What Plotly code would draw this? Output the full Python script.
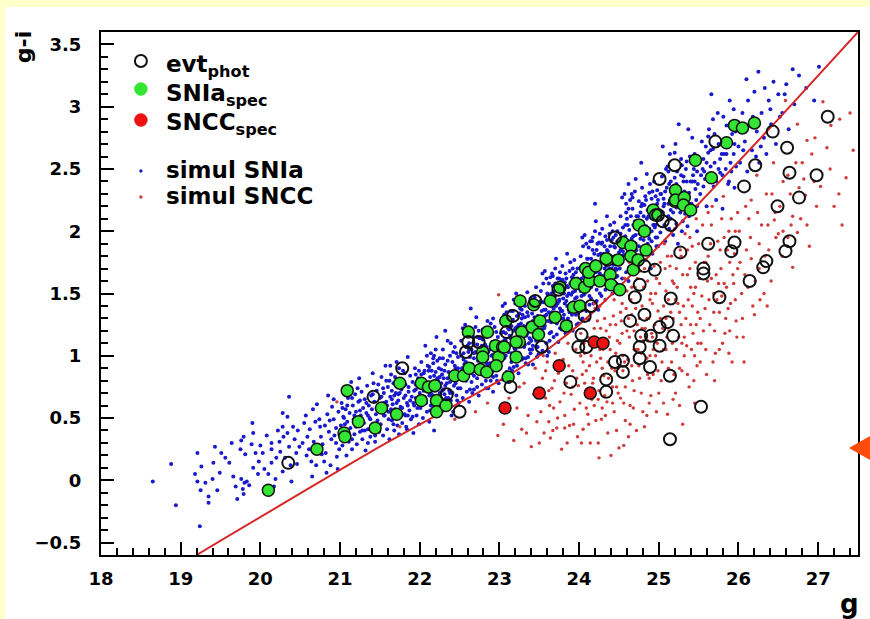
import plotly.graph_objects as go

# ---------------- data ----------------
# separation line (g, g-i)
line_g = [19.2, 21.5, 23.0, 23.5, 24.0, 24.5, 25.25, 26.5, 27.5]
line_gi = [-0.6, 0.27, 0.80, 1.0, 1.25, 1.55, 2.05, 2.9, 3.6]

# photometric events (open circles)
evt_phot = [(20.35,0.14),(21.42,0.67),(21.78,0.90),(22.50,0.55),(22.34,0.69),(22.61,1.11),(22.58,1.03),
    (22.74,1.11),(23.17,1.32),(23.09,1.19),(23.14,0.75),(23.53,1.07),(23.89,0.79),(23.99,1.07),(24.09,1.07),
    (24.03,1.17),(24.15,1.40),(24.07,1.32),(24.34,0.81),(24.34,0.71),(24.45,0.95),(24.55,0.96),(24.55,0.87),
    (24.64,1.28),(24.70,1.47),(24.82,1.33),(24.76,1.57),(24.76,1.07),(24.78,1.16),(24.90,1.16),(24.89,0.91),
    (25.01,1.08),(25.01,1.23),(25.11,1.27),(25.18,1.16),(25.15,1.46),(25.14,0.33),(25.14,0.84),(24.95,1.69),
    (24.45,1.95),(25.05,2.08),(24.76,0.98),(25.53,0.59),(27.12,2.92),(26.43,2.80),(26.61,2.67),(25.71,2.72),
    (25.20,2.53),(25.01,2.42),(26.21,2.53),(26.64,2.47),(26.98,2.45),(26.07,2.36),(26.76,2.27),(26.49,2.20),
    (25.62,1.90),(25.27,1.83),(25.95,1.91),(25.91,1.84),(26.64,1.92),(26.59,1.84),(26.35,1.76),(26.31,1.71),
    (25.56,1.70),(25.56,1.66),(26.14,1.60),(25.15,2.05),(24.99,2.13),(25.76,1.47),(24.82,1.72),(23.74,1.53),
    (23.45,1.44)]

# spectroscopic SNIa (green)
snia_spec = [(20.10,-0.08),(20.71,0.25),(21.09,0.72),(21.05,0.38),(21.06,0.35),(21.23,0.47),(21.44,0.42),
    (21.52,0.58),(21.71,0.53),(21.75,0.78),(22.02,0.78),(22.02,0.64),(22.21,0.64),(22.21,0.55),(22.11,0.75),
    (22.33,0.60),(22.19,0.76),(22.44,0.84),(22.55,0.84),(22.61,1.19),(22.62,0.90),(22.79,1.03),(22.79,0.99),
    (22.76,0.89),(22.84,0.87),(22.85,1.19),(22.95,1.08),(22.99,0.99),(23.04,1.07),(23.06,1.07),(22.96,0.92),
    (23.21,0.99),(23.08,1.28),(23.26,1.44),(23.28,1.19),(23.25,1.11),(23.11,0.83),(23.21,1.11),(23.41,1.23),
    (23.51,1.28),(23.49,1.17),(23.43,1.41),(23.64,1.44),(23.70,1.31),(23.84,1.24),(23.76,1.55),(23.93,1.39),
    (23.96,1.58),(24.01,1.40),(24.07,1.55),(24.13,1.60),(24.08,1.70),(24.12,1.67),(24.21,1.72),(24.26,1.60),
    (24.36,1.77),(24.39,1.65),(24.40,1.57),(24.51,1.53),(24.55,1.91),(24.65,1.88),(24.68,1.69),(24.65,1.80),
    (24.75,2.05),(24.82,2.00),(24.74,1.77),(24.84,1.85),(24.49,1.77),(24.93,2.17),(24.96,2.13),(25.20,2.24),
    (25.95,2.85),(26.05,2.83),(26.20,2.87),(25.85,2.71),(25.46,2.57),(25.66,2.43),(25.21,2.33),(25.21,2.25),
    (25.32,2.27),(25.31,2.21),(25.40,2.17),(24.34,1.78)]

# spectroscopic SNCC (red)
sncc_spec = [(23.07,0.58),(23.50,0.70),(23.75,0.92),(24.14,0.70),(24.19,1.11),(24.30,1.10)]

# simulated SNIa (blue dots)
simul_snia = [
    (18.65,-0.01),(18.88,0.13),(18.94,-0.20),(19.24,-0.37),(19.21,0.22),(19.26,0.11),(19.18,0.05),(19.21,-0.01),
    (19.31,-0.02),(19.25,-0.08),(19.35,-0.13),(19.35,-0.18),(19.43,0.27),(19.41,0.14),(19.40,0.01),(19.46,-0.08),
    (19.51,0.22),(19.49,0.06),
    (19.61,0.14),(19.66,0.03),(19.69,-0.05),(19.71,-0.15),(19.76,0.32),(19.75,0.25),(19.76,0.01),(19.78,-0.07),
    (19.79,-0.11),(19.80,-0.02),(19.79,0.35),(19.81,0.21),(19.90,0.46),(19.89,0.29),(19.91,0.38),(19.94,0.22),
    (19.91,0.10),(19.86,-0.04),(19.83,-0.01),(20.00,0.28),(19.56,0.18),(19.64,0.30),(19.97,0.05),(19.98,0.15),
    (20.03,0.22),(20.05,0.09),(20.14,0.25),(20.14,0.30),(20.14,0.14),(20.20,0.18),(20.19,0.01),(20.28,0.54),
    (20.28,0.43),(20.29,0.35),(20.28,0.07),(20.34,0.51),(20.34,0.38),(20.36,0.67),(20.36,0.27),(20.39,-0.01),
    (20.41,0.43),(20.43,0.33),(20.45,0.22),(20.46,0.13),(20.49,0.27),(20.08,0.36),(20.22,0.40),(20.25,0.23),
    (20.31,0.18),(20.38,0.12),(20.47,0.40),(20.10,0.05),(20.17,-0.05),(20.24,0.31),
    (20.53,0.30),(20.55,0.46),(20.59,0.35),(20.61,0.25),(20.64,0.15),(20.65,0.03),(20.71,0.61),(20.74,0.49),
    (20.75,0.43),(20.76,0.35),(20.78,0.29),(20.77,0.21),(20.80,0.15),(20.83,0.06),(20.84,0.53),(20.86,0.39),
    (20.89,0.33),(20.90,0.59),(20.92,0.49),(20.95,0.42),(20.95,0.30),(20.96,0.19),(20.92,0.65),(20.57,0.52),
    (20.62,0.41),(20.67,0.31),(20.69,0.47),(20.72,0.26),(20.81,0.44),(20.82,0.22),(20.87,0.48),(20.88,0.12),
    (20.93,0.36),(20.98,0.55),(20.99,0.25),(20.58,0.20),(20.66,0.57),(20.70,0.12),(20.85,0.68),(20.97,0.09),
    (21.01,0.44),(21.02,0.62),(21.03,0.28),(21.04,0.51),(21.05,0.73),(21.06,0.36),(21.07,0.57),(21.08,0.20),
    (21.09,0.47),(21.10,0.66),(21.11,0.31),(21.12,0.54),(21.13,0.42),(21.14,0.79),(21.15,0.25),(21.16,0.60),
    (21.17,0.49),(21.18,0.37),(21.19,0.69),(21.20,0.55),(21.21,0.29),(21.22,0.45),(21.23,0.63),(21.24,0.82),
    (21.25,0.39),(21.26,0.52),(21.27,0.71),(21.28,0.33),(21.29,0.58),(21.30,0.46),(21.31,0.65),(21.32,0.24),
    (21.33,0.54),(21.34,0.76),(21.35,0.41),(21.36,0.60),(21.37,0.50),(21.38,0.35),(21.39,0.68),(21.40,0.57),
    (21.41,0.86),(21.42,0.44),(21.43,0.63),(21.44,0.31),(21.45,0.53),(21.46,0.72),(21.47,0.48),(21.48,0.60),
    (21.49,0.39),(21.50,0.66),
    (21.51,0.45),(21.52,0.83),(21.53,0.58),(21.54,0.36),(21.55,0.70),(21.56,0.52),(21.57,0.92),(21.58,0.63),
    (21.59,0.41),(21.60,0.75),(21.61,0.55),(21.62,0.33),(21.63,0.67),(21.64,0.85),(21.65,0.48),(21.66,0.61),
    (21.67,0.78),(21.68,0.40),(21.69,0.57),(21.70,0.70),(21.71,0.95),(21.72,0.50),(21.73,0.64),(21.74,0.37),
    (21.75,0.81),(21.76,0.59),(21.77,0.73),(21.78,0.46),(21.79,0.88),(21.80,0.66),(21.81,0.53),(21.82,0.77),
    (21.83,0.43),(21.84,0.62),(21.85,0.99),(21.86,0.71),(21.87,0.56),(21.88,0.84),(21.89,0.49),(21.90,0.67),
    (21.91,0.79),(21.92,0.38),(21.93,0.60),(21.94,0.90),(21.95,0.73),(21.96,0.52),(21.97,0.65),(21.98,0.82),
    (21.99,0.45),(22.00,0.70),(21.55,0.62),(21.65,0.72),(21.75,0.55),(21.85,0.60),(21.95,0.85),
    (22.01,0.58),(22.02,0.95),(22.03,0.74),(22.04,0.50),(22.05,0.86),(22.06,0.67),(22.07,1.08),(22.08,0.79),
    (22.09,0.55),(22.10,0.92),(22.11,0.71),(22.12,0.47),(22.13,0.83),(22.14,1.02),(22.15,0.63),(22.16,0.77),
    (22.17,0.94),(22.18,0.57),(22.19,0.72),(22.20,0.87),(22.21,1.15),(22.22,0.66),(22.23,0.80),(22.24,0.52),
    (22.25,0.98),(22.26,0.75),(22.27,0.89),(22.28,0.61),(22.29,1.05),(22.30,0.82),(22.31,0.69),(22.32,0.93),
    (22.33,0.58),(22.34,0.78),(22.35,1.12),(22.36,0.87),(22.37,0.72),(22.38,1.00),(22.39,0.64),(22.40,0.84),
    (22.41,0.95),(22.42,0.55),(22.43,0.76),(22.44,1.07),(22.45,0.90),(22.46,0.68),(22.47,0.81),(22.48,0.99),
    (22.49,0.62),(22.50,0.86),(22.06,0.88),(22.14,0.60),(22.22,0.96),(22.28,0.72),(22.36,0.66),(22.44,0.83),
    (22.12,0.78),(22.32,1.20),(22.18,0.40),(22.40,0.52),
    (22.51,0.74),(22.52,1.12),(22.53,0.90),(22.54,0.66),(22.55,1.02),(22.56,0.83),(22.57,1.25),(22.58,0.95),
    (22.59,0.71),(22.60,1.08),(22.61,0.87),(22.62,0.63),(22.63,0.99),(22.64,1.18),(22.65,0.79),(22.66,0.93),
    (22.67,1.10),(22.68,0.73),(22.69,0.88),(22.70,1.03),(22.71,1.31),(22.72,0.82),(22.73,0.96),(22.74,0.68),
    (22.75,1.14),(22.76,0.91),(22.77,1.05),(22.78,0.77),(22.79,1.21),(22.80,0.98),(22.81,0.85),(22.82,1.09),
    (22.83,0.74),(22.84,0.94),(22.85,1.28),(22.86,1.03),(22.87,0.88),(22.88,1.16),(22.89,0.80),(22.90,1.00),
    (22.91,1.11),(22.92,0.71),(22.93,0.92),(22.94,1.23),(22.95,1.06),(22.96,0.84),(22.97,0.97),(22.98,1.15),
    (22.99,0.78),(23.00,1.02),(22.55,0.88),(22.62,1.05),(22.68,0.98),(22.74,1.20),(22.80,0.86),(22.86,0.93),
    (22.92,1.30),(22.58,0.80),(22.66,0.70),(22.72,1.09),(22.78,0.96),(22.84,1.07),(22.90,0.90),(22.96,1.00),
    (22.64,1.38),
    (23.01,0.90),(23.02,1.28),(23.03,1.05),(23.04,0.81),(23.05,1.19),(23.06,0.98),(23.07,1.42),(23.08,1.12),
    (23.09,0.87),(23.10,1.25),(23.11,1.03),(23.12,0.79),(23.13,1.16),(23.14,1.36),(23.15,0.95),(23.16,1.10),
    (23.17,1.29),(23.18,0.91),(23.19,1.06),(23.20,1.22),(23.21,1.50),(23.22,1.01),(23.23,1.15),(23.24,0.86),
    (23.25,1.34),(23.26,1.11),(23.27,1.26),(23.28,0.97),(23.29,1.43),(23.30,1.19),(23.31,1.07),(23.32,1.31),
    (23.33,0.94),(23.34,1.16),(23.35,1.51),(23.36,1.26),(23.37,1.10),(23.38,1.39),(23.39,1.02),(23.40,1.22),
    (23.41,1.34),(23.42,0.93),(23.43,1.15),(23.44,1.47),(23.45,1.30),(23.46,1.07),(23.47,1.20),(23.48,1.40),
    (23.49,1.01),(23.50,1.27),(23.04,1.10),(23.08,1.00),(23.12,1.21),(23.16,0.88),(23.20,1.05),(23.24,1.18),
    (23.28,1.37),(23.32,1.09),(23.36,0.99),(23.40,1.12),(23.44,1.24),(23.48,1.13),(23.06,1.33),(23.14,1.14),
    (23.22,1.32),(23.30,0.98),(23.38,1.25),(23.46,1.55),(23.18,1.45),(23.42,1.08),
    (23.51,1.14),(23.52,1.52),(23.53,1.29),(23.54,1.04),(23.55,1.43),(23.56,1.22),(23.57,1.68),(23.58,1.37),
    (23.59,1.10),(23.60,1.50),(23.61,1.28),(23.62,1.03),(23.63,1.41),(23.64,1.63),(23.65,1.19),(23.66,1.35),
    (23.67,1.56),(23.68,1.15),(23.69,1.31),(23.70,1.48),(23.71,1.78),(23.72,1.26),(23.73,1.42),(23.74,1.11),
    (23.75,1.62),(23.76,1.38),(23.77,1.53),(23.78,1.21),(23.79,1.72),(23.80,1.46),(23.81,1.33),(23.82,1.59),
    (23.83,1.18),(23.84,1.44),(23.85,1.82),(23.86,1.55),(23.87,1.37),(23.88,1.68),(23.89,1.27),(23.90,1.49),
    (23.91,1.63),(23.92,1.20),(23.93,1.43),(23.94,1.77),(23.95,1.58),(23.96,1.33),(23.97,1.47),(23.98,1.70),
    (23.99,1.26),(24.00,1.54),(23.53,1.36),(23.57,1.24),(23.61,1.45),(23.65,1.30),(23.69,1.52),(23.73,1.62),
    (23.77,1.30),(23.81,1.50),(23.85,1.40),(23.89,1.58),(23.93,1.65),(23.97,1.39),(23.55,1.58),(23.63,1.18),
    (23.71,1.40),(23.79,1.36),(23.87,1.50),(23.95,1.46),(23.59,1.33),(23.67,1.44),(23.75,1.45),(23.83,1.66),
    (23.91,1.40),(23.99,1.60),(23.60,1.00),
    (24.01,1.40),(24.02,1.80),(24.03,1.56),(24.04,1.30),(24.05,1.71),(24.06,1.49),(24.07,1.97),(24.08,1.64),
    (24.09,1.36),(24.10,1.78),(24.11,1.55),(24.12,1.29),(24.13,1.69),(24.14,1.92),(24.15,1.46),(24.16,1.62),
    (24.17,1.85),(24.18,1.42),(24.19,1.58),(24.20,1.76),(24.21,2.08),(24.22,1.53),(24.23,1.70),(24.24,1.37),
    (24.25,1.91),(24.26,1.66),(24.27,1.82),(24.28,1.48),(24.29,2.02),(24.30,1.75),(24.31,1.61),(24.32,1.88),
    (24.33,1.45),(24.34,1.72),(24.35,2.12),(24.36,1.84),(24.37,1.65),(24.38,1.98),(24.39,1.55),(24.40,1.79),
    (24.41,1.93),(24.42,1.50),(24.43,1.73),(24.44,2.07),(24.45,1.87),(24.46,1.63),(24.47,1.77),(24.48,2.00),
    (24.49,1.56),(24.50,1.83),(24.03,1.62),(24.07,1.50),(24.11,1.73),(24.15,1.60),(24.19,1.82),(24.23,1.90),
    (24.27,1.58),(24.31,1.79),(24.35,1.68),(24.39,1.88),(24.43,1.95),(24.47,1.69),(24.05,1.88),(24.13,1.48),
    (24.21,1.67),(24.29,1.64),(24.37,1.80),(24.45,1.74),(24.09,1.63),(24.17,1.72),(24.25,1.75),(24.33,1.96),
    (24.41,1.70),(24.49,1.90),(24.20,2.22),
    (24.51,1.70),(24.52,2.12),(24.53,1.88),(24.54,1.62),(24.55,2.03),(24.56,1.81),(24.57,2.30),(24.58,1.96),
    (24.59,1.67),(24.60,2.10),(24.61,1.87),(24.62,1.60),(24.63,2.01),(24.64,2.25),(24.65,1.78),(24.66,1.94),
    (24.67,2.18),(24.68,1.74),(24.69,1.91),(24.70,2.08),(24.71,2.42),(24.72,1.85),(24.73,2.02),(24.74,1.69),
    (24.75,2.24),(24.76,1.98),(24.77,2.15),(24.78,1.80),(24.79,2.35),(24.80,2.07),(24.81,1.93),(24.82,2.21),
    (24.83,1.77),(24.84,2.04),(24.85,2.46),(24.86,2.17),(24.87,1.97),(24.88,2.31),(24.89,1.86),(24.90,2.11),
    (24.91,2.26),(24.92,1.82),(24.93,2.05),(24.94,2.40),(24.95,2.20),(24.96,1.95),(24.97,2.09),(24.98,2.33),
    (24.99,1.88),(25.00,2.16),(24.55,1.84),(24.63,1.78),(24.71,1.97),(24.79,2.00),(24.87,2.12),(24.95,2.03),
    (24.59,2.22),(24.67,1.89),(24.75,2.08),(24.83,2.28),(24.91,2.00),(24.99,2.25),(24.62,2.38),(24.78,2.55),
    (24.90,1.70),
    (25.02,1.99),(25.04,2.44),(25.06,2.20),(25.08,1.92),(25.10,2.35),(25.12,2.12),(25.14,2.62),(25.16,2.27),
    (25.18,1.97),(25.20,2.43),(25.22,2.19),(25.24,1.90),(25.26,2.33),(25.28,2.58),(25.30,2.08),(25.32,2.26),
    (25.34,2.50),(25.36,2.04),(25.38,2.22),(25.40,2.40),(25.42,2.75),(25.44,2.16),(25.46,2.34),(25.48,2.00),
    (25.50,2.55),(25.03,2.30),(25.07,2.05),(25.11,2.52),(25.15,2.10),(25.19,2.28),(25.23,2.48),(25.27,2.15),
    (25.31,2.40),(25.35,2.30),(25.39,2.60),(25.43,2.45),(25.47,2.25),(25.05,2.68),(25.13,2.38),(25.21,2.70),
    (25.29,2.00),(25.37,2.82),(25.45,2.62),(25.49,2.38),(25.25,2.86),
    (25.52,2.30),(25.54,2.72),(25.57,2.48),(25.60,2.20),(25.62,2.63),(25.65,2.40),(25.68,2.90),(25.70,2.55),
    (25.72,2.25),(25.75,2.70),(25.77,2.47),(25.80,2.18),(25.82,2.62),(25.85,2.85),(25.87,2.38),(25.90,2.55),
    (25.92,2.78),(25.95,2.35),(25.97,2.52),(26.00,2.68),(25.56,2.58),(25.63,2.82),(25.69,2.36),(25.74,2.95),
    (25.79,2.62),(25.84,2.50),(25.89,3.05),(25.94,2.62),(25.99,2.88),(25.66,3.10),(25.58,2.42),(25.86,2.70),
    (26.02,2.55),(26.05,2.95),(26.08,2.72),(26.11,2.48),(26.14,2.85),(26.17,2.65),(26.20,3.12),(26.23,2.80),
    (26.26,2.55),(26.29,2.95),(26.32,2.75),(26.35,2.62),(26.38,3.05),(26.41,2.86),(26.44,3.20),(26.47,2.70),
    (26.10,3.22),(26.25,3.28),
    (26.52,2.92),(26.58,3.10),(26.63,2.82),(26.70,3.02),(26.76,3.25),(26.85,3.15),(27.01,3.32),(26.95,3.05),
    (26.68,3.30)]

simul_snia_more = [
    (21.03,0.58),(21.27,0.47),(21.12,0.36),(21.41,0.69),(21.18,0.52),(21.35,0.30),(21.06,0.45),(21.46,0.58),
    (21.22,0.74),(21.31,0.40),(21.09,0.60),(21.38,0.49),(21.15,0.66),(21.44,0.36),(21.25,0.56),(21.48,0.77),
    (21.02,0.33),(21.33,0.62),(21.20,0.43),(21.13,0.71),
    (21.52,0.67),(21.78,0.58),(21.61,0.49),(21.93,0.72),(21.69,0.83),(21.84,0.41),(21.57,0.56),(21.97,0.58),
    (21.73,0.69),(21.63,0.92),(21.88,0.64),(21.54,0.74),(21.81,0.86),(21.67,0.45),(21.99,0.88),(21.76,0.77),
    (21.59,0.60),(21.91,0.51),(21.71,0.62),(21.86,0.75),(21.64,0.57),(21.95,0.66),(21.82,0.52),(21.58,0.80),
    (21.74,0.90),
    (22.03,0.66),(22.27,0.78),(22.12,0.91),(22.41,0.70),(22.18,0.84),(22.35,0.96),(22.06,0.74),(22.46,1.02),
    (22.22,0.60),(22.31,0.88),(22.09,1.00),(22.38,0.79),(22.15,0.69),(22.44,0.92),(22.25,0.83),(22.48,0.74),
    (22.02,0.85),(22.33,0.66),(22.20,1.05),(22.13,0.56),(22.29,0.98),(22.42,0.86),(22.07,0.79),(22.36,0.59),
    (22.24,0.90),(22.47,0.64),(22.11,0.88),(22.39,1.10),(22.17,0.98),(22.30,0.73),
    (22.53,0.81),(22.77,0.93),(22.62,1.10),(22.91,0.87),(22.68,1.02),(22.84,1.15),(22.56,0.93),(22.96,1.19),
    (22.72,0.75),(22.81,1.05),(22.59,1.17),(22.88,0.94),(22.65,0.86),(22.94,1.08),(22.75,0.99),(22.98,0.89),
    (22.52,1.00),(22.83,0.80),(22.70,1.23),(22.63,0.73),(22.79,1.13),(22.92,1.01),(22.57,0.94),(22.86,0.74),
    (22.74,1.06),(22.97,0.80),(22.61,1.03),(22.89,1.26),(22.67,1.15),(22.80,0.90),(22.54,1.22),(22.71,0.89),
    (23.03,0.96),(23.27,1.10),(23.12,1.30),(23.41,1.05),(23.18,1.20),(23.35,1.35),(23.06,1.12),(23.46,1.40),
    (23.22,0.92),(23.31,1.24),(23.09,1.35),(23.38,1.14),(23.15,1.02),(23.44,1.31),(23.25,1.17),(23.48,1.07),
    (23.02,1.18),(23.33,0.98),(23.20,1.42),(23.13,0.90),(23.29,1.33),(23.42,1.20),(23.07,1.13),(23.36,0.93),
    (23.24,1.25),(23.47,0.99),(23.11,1.22),(23.39,1.46),(23.17,1.36),(23.30,1.08),(23.04,1.40),(23.21,1.07),
    (23.45,1.16),(23.26,1.38),
    (23.53,1.21),(23.77,1.36),(23.62,1.58),(23.91,1.33),(23.68,1.47),(23.84,1.62),(23.56,1.37),(23.96,1.67),
    (23.72,1.17),(23.81,1.53),(23.59,1.62),(23.88,1.41),(23.65,1.27),(23.94,1.60),(23.75,1.44),(23.98,1.35),
    (23.52,1.44),(23.83,1.24),(23.70,1.70),(23.63,1.12),(23.79,1.61),(23.92,1.51),(23.57,1.32),(23.86,1.22),
    (23.74,1.52),(23.97,1.25),(23.61,1.48),(23.89,1.75),(23.67,1.64),(23.80,1.30),(23.54,1.66),(23.71,1.33),
    (23.95,1.42),(23.76,1.67),(23.85,1.48),(23.66,1.40),
    (24.03,1.48),(24.27,1.63),(24.12,1.87),(24.41,1.62),(24.18,1.75),(24.35,1.93),(24.06,1.64),(24.46,1.97),
    (24.22,1.44),(24.31,1.82),(24.09,1.90),(24.38,1.70),(24.15,1.55),(24.44,1.88),(24.25,1.72),(24.48,1.64),
    (24.02,1.70),(24.33,1.53),(24.20,2.00),(24.13,1.41),(24.29,1.91),(24.42,1.79),(24.07,1.59),(24.36,1.59),
    (24.24,1.81),(24.47,1.58),(24.11,1.78),(24.39,2.05),(24.17,1.95),(24.30,1.60),(24.04,1.95),(24.21,1.61),
    (24.45,1.76),(24.26,1.98),(24.35,1.76),(24.16,1.67),
    (24.53,1.77),(24.77,1.94),(24.62,2.18),(24.91,1.92),(24.68,2.05),(24.84,2.25),(24.56,1.93),(24.96,2.28),
    (24.72,1.75),(24.81,2.12),(24.59,2.15),(24.88,2.02),(24.65,1.86),(24.94,2.20),(24.75,2.02),(24.98,1.95),
    (24.52,1.98),(24.83,1.84),(24.70,2.32),(24.63,1.71),(24.79,2.22),(24.92,2.10),(24.57,1.89),(24.86,1.90),
    (24.74,2.12),(24.97,1.88),(24.61,2.05),(24.89,2.38),(24.67,2.27),(24.80,1.85),(24.54,2.27),(24.71,1.90),
    (24.95,2.05),
    (25.03,2.10),(25.27,2.25),(25.12,2.48),(25.41,2.22),(25.18,2.36),(25.35,2.56),(25.06,2.26),(25.46,2.58),
    (25.22,2.06),(25.31,2.44),(25.09,2.50),(25.38,2.31),(25.15,2.17),(25.44,2.50),(25.25,2.34),(25.48,2.20),
    (25.02,2.30),(25.33,2.14),(25.20,2.63),(25.13,2.02),(25.29,2.53),(25.42,2.40),(25.07,2.22),
    (25.53,2.45),(25.77,2.58),(25.62,2.76),(25.91,2.48),(25.68,2.66),(25.84,2.72),(25.56,2.36),(25.96,2.80),
    (25.72,2.40),(25.81,2.92),(25.59,2.68),(25.88,2.40),(25.65,2.52),(25.94,2.98),
    (26.06,2.65),(26.18,2.92),(26.28,2.68),(26.40,2.98),(26.12,3.05),(26.33,3.15),(26.50,3.10),(26.22,2.60),
    (26.55,2.95),(26.60,3.18)]

simul_snia_core = [
    (21.05,0.50),(21.15,0.33),(21.25,0.64),(21.35,0.52),(21.45,0.45),(21.08,0.68),(21.28,0.40),(21.42,0.78),
    (21.55,0.52),(21.65,0.65),(21.75,0.70),(21.85,0.52),(21.95,0.77),(21.62,0.80),(21.72,0.44),(21.82,0.68),
    (21.92,0.62),(21.68,0.68),
    (22.05,0.72),(22.15,0.88),(22.25,0.70),(22.35,0.82),(22.45,0.78),(22.08,0.62),(22.18,1.00),(22.28,0.85),
    (22.38,0.70),(22.48,0.90),(22.12,0.68),(22.32,0.76),(22.42,1.03),(22.22,0.82),
    (22.55,0.97),(22.65,1.05),(22.75,0.86),(22.85,1.00),(22.95,0.95),(22.58,1.07),(22.68,0.84),(22.78,1.08),
    (22.88,1.05),(22.98,1.10),(22.62,0.92),(22.72,1.15),(22.82,0.96),(22.92,0.83),(22.52,0.85),(22.66,1.20),
    (23.05,1.05),(23.15,1.24),(23.25,1.02),(23.35,1.18),(23.45,1.22),(23.08,1.18),(23.18,1.00),(23.28,1.30),
    (23.38,1.05),(23.48,1.32),(23.12,1.08),(23.22,1.23),(23.32,1.40),(23.42,1.28),(23.02,1.08),(23.26,1.20),
    (23.36,1.32),(23.46,1.12),
    (23.55,1.30),(23.65,1.50),(23.75,1.32),(23.85,1.56),(23.95,1.52),(23.58,1.45),(23.68,1.38),(23.78,1.60),
    (23.88,1.35),(23.98,1.62),(23.62,1.35),(23.72,1.55),(23.82,1.42),(23.92,1.70),(23.52,1.26),(23.66,1.66),
    (23.76,1.22),(23.86,1.30),(23.96,1.40),(23.70,1.58),
    (24.05,1.55),(24.15,1.78),(24.25,1.60),(24.35,1.85),(24.45,1.80),(24.08,1.72),(24.18,1.63),(24.28,1.90),
    (24.38,1.62),(24.48,1.92),(24.12,1.60),(24.22,1.85),(24.32,1.70),(24.42,2.00),(24.02,1.52),(24.16,1.92),
    (24.26,1.50),(24.36,1.66),(24.46,1.70),(24.20,1.70),
    (24.55,1.95),(24.65,2.12),(24.75,1.88),(24.85,2.10),(24.95,2.12),(24.58,2.05),(24.68,1.96),(24.78,2.20),
    (24.88,1.94),(24.98,2.22),(24.62,1.92),(24.72,2.12),(24.82,2.04),(24.92,2.32),(24.52,1.85),(24.66,2.30),
    (24.76,1.80),(24.86,2.00),(24.96,2.05),
    (25.05,2.15),(25.15,2.40),(25.25,2.20),(25.35,2.40),(25.45,2.40),(25.08,2.32),(25.18,2.15),(25.28,2.45),
    (25.38,2.12),(25.48,2.48),(25.12,2.22),(25.22,2.38),(25.32,2.32),(25.42,2.60),
    (25.55,2.50),(25.65,2.65),(25.75,2.50),(25.85,2.62),(25.95,2.70),(25.60,2.55),(25.70,2.78),(25.80,2.45),
    (25.90,2.85)]

# simulated SNCC (red dots)
simul_sncc = [
    (22.44,0.49),(22.98,0.36),(22.99,1.49),(22.70,0.55),(22.85,0.62),(21.75,0.43),(20.96,0.63),(23.05,0.45),
    (23.12,0.66),(23.18,0.32),(23.22,0.58),(23.28,0.41),(23.31,0.78),(23.36,0.52),(23.40,0.27),(23.43,0.69),
    (23.47,0.47),(23.45,0.90),(23.15,0.85),
    (23.52,0.55),(23.54,0.82),(23.56,0.38),(23.58,0.66),(23.60,0.95),(23.62,0.47),(23.64,0.34),(23.66,0.74),
    (23.68,0.58),(23.70,1.02),(23.72,0.42),(23.74,0.86),(23.76,0.63),(23.78,0.25),(23.80,0.97),(23.82,0.52),
    (23.84,0.78),(23.86,1.10),(23.88,0.44),(23.90,0.69),(23.92,0.88),(23.94,0.57),(23.96,1.05),(23.98,0.35),
    (23.99,0.76),
    (24.01,0.62),(24.02,1.18),(24.04,0.85),(24.05,0.41),(24.07,1.02),(24.08,0.70),(24.10,1.30),(24.11,0.53),
    (24.13,0.92),(24.14,0.30),(24.16,1.12),(24.17,0.78),(24.19,0.60),(24.20,1.38),(24.22,0.95),(24.24,0.30),
    (24.25,0.72),(24.27,1.22),(24.28,0.49),(24.30,1.05),(24.31,0.84),(24.33,1.45),(24.35,0.63),(24.36,0.38),
    (24.38,1.15),(24.40,0.20),(24.41,0.90),(24.43,1.32),(24.44,0.55),(24.46,1.02),(24.47,0.75),(24.49,1.50),
    (24.50,0.26),(24.23,1.28),(24.12,0.45),
    (24.51,1.10),(24.52,0.66),(24.54,1.42),(24.55,0.88),(24.57,1.62),(24.58,0.48),(24.60,1.20),(24.61,0.97),
    (24.63,1.75),(24.64,0.60),(24.66,1.33),(24.67,0.80),(24.69,1.05),(24.70,1.55),(24.72,0.40),(24.73,1.25),
    (24.75,0.92),(24.76,1.68),(24.78,0.70),(24.79,1.40),(24.81,1.12),(24.82,0.43),(24.84,1.82),(24.85,0.98),
    (24.87,1.30),(24.88,0.62),(24.90,1.50),(24.91,1.18),(24.93,0.85),(24.94,1.72),(24.96,1.00),(24.97,0.55),
    (24.99,1.36),(24.53,1.28),(24.65,1.45),(24.77,1.15),(24.89,1.00),(24.62,0.35),(24.74,1.05),(24.86,1.60),
    (25.01,1.58),(25.03,0.80),(25.05,1.22),(25.07,1.90),(25.09,1.05),(25.11,0.53),(25.12,1.45),(25.14,1.72),
    (25.16,0.95),(25.18,1.30),(25.20,2.02),(25.21,0.70),(25.23,1.55),(25.25,1.15),(25.27,1.85),(25.29,0.88),
    (25.31,1.40),(25.33,1.98),(25.35,1.08),(25.36,1.65),(25.38,0.75),(25.40,1.25),(25.42,1.88),(25.44,1.50),
    (25.45,1.00),(25.47,2.10),(25.49,1.35),(25.06,1.40),(25.17,1.60),(25.28,1.25),(25.39,1.70),(25.48,0.92),
    (25.10,1.15),(25.26,0.60),(25.43,1.18),
    (25.51,1.62),(25.53,1.10),(25.55,2.05),(25.58,1.38),(25.60,0.85),(25.62,1.80),(25.64,1.25),(25.67,2.20),
    (25.69,1.50),(25.71,1.02),(25.74,1.92),(25.76,1.35),(25.78,1.70),(25.81,2.28),(25.83,1.18),(25.85,1.55),
    (25.88,2.00),(25.90,1.42),(25.92,0.95),(25.95,1.82),(25.97,1.28),(25.99,2.15),(25.66,1.62),(25.79,1.48),
    (25.93,1.65),
    (26.02,1.75),(26.05,1.30),(26.07,0.95),(26.09,2.20),(26.12,1.55),(26.15,1.95),(26.18,1.40),(26.20,1.33),
    (26.23,2.45),(26.26,1.70),(26.29,2.05),(26.32,1.50),(26.35,2.30),(26.38,1.85),(26.41,1.60),(26.44,2.55),
    (26.47,1.95),(26.45,2.09),
    (26.52,2.20),(26.55,1.80),(26.59,3.05),(26.62,2.45),(26.68,1.71),(26.68,2.12),(26.74,2.86),(26.74,1.99),
    (26.80,2.55),(26.84,2.29),(26.86,2.73),(26.89,1.88),(26.95,2.40),
    (27.03,2.36),(27.06,3.04),(27.11,2.67),(27.20,2.20),(27.27,2.90),(27.35,2.43),(27.44,2.65),(27.30,2.05)]

simul_sncc_more = [
    (24.05,0.95),(24.18,0.82),(24.26,1.05),(24.32,0.68),(24.39,1.25),(24.45,0.88),(24.52,1.35),(24.58,0.75),
    (24.63,1.15),(24.68,0.58),(24.71,1.38),(24.78,1.02),(24.83,1.22),(24.88,0.82),(24.92,1.42),(24.98,1.10),
    (25.04,0.95),(25.09,1.52),(25.13,1.20),(25.19,0.85),(25.24,1.42),(25.30,1.65),(25.34,1.30),(25.41,1.05),
    (25.46,1.55),(25.52,1.30),(25.57,1.75),(25.63,1.45),(25.70,1.20),(25.75,1.58),(25.82,1.95),(25.87,1.38),
    (25.94,1.58),(26.01,2.00),(26.08,1.65),(26.16,1.78),(26.24,2.15),(26.33,1.80),(26.42,2.30),(26.50,1.98),
    (23.58,0.88),(23.63,0.60),(23.69,0.80),(23.73,0.50),(23.81,0.70),(23.87,0.92),(23.93,0.45),(23.97,0.82),
    (24.03,0.30),(24.09,0.58),(24.15,1.00),(24.21,0.48),(24.29,0.90),(24.34,1.20),(24.42,0.62),(24.48,1.12),
    (24.55,1.00),(24.60,1.52),(24.66,0.92),(24.73,1.62),(24.80,0.55),(24.86,1.12),(24.95,1.25),(25.00,0.70),
    (25.08,1.70),(25.15,1.35),(25.22,1.05),(25.28,1.80),(25.37,1.45),(25.44,0.80),(25.50,1.90),(25.59,1.05),
    (25.65,1.90),(25.73,1.45),(25.80,1.10),(25.89,1.75),(25.96,1.45),(26.04,1.50),(26.13,2.10),(26.21,1.60),
    (24.07,0.78),(24.11,1.15),(24.19,1.42),(24.24,0.65),(24.27,0.98),(24.33,0.52),(24.37,0.82),(24.44,1.45),
    (24.49,0.70),(24.54,1.18),(24.57,0.95),(24.62,1.30),(24.64,0.45),(24.69,1.20),(24.76,0.82),(24.81,1.55),
    (24.85,1.30),(24.90,0.68),(24.93,1.05),(24.97,1.62),(25.02,1.30),(25.06,0.62),(25.11,1.80),(25.17,1.10),
    (25.21,1.45),(25.26,0.90),(25.32,1.15),(25.36,1.85),(25.40,1.55),(25.47,1.25),(25.54,1.48),(25.61,1.60),
    (25.68,0.95),(25.77,1.85),(25.84,1.30),(25.91,2.10),(25.98,1.15),(26.10,1.85),(26.27,1.45),(26.37,2.05),
    (26.56,2.00),(26.65,2.30),(26.72,2.55),(26.78,2.10),(26.92,2.62),(26.98,2.20),(27.15,2.50),(27.40,2.95),
    (26.62,1.95),(26.82,2.42),
    (23.25,0.75),(23.34,0.38),(23.50,0.30),(23.55,1.00),(23.67,0.40),(23.85,0.30),(24.47,0.40),(24.25,0.18),
    (24.56,0.28),(25.18,0.65),(25.45,0.62),(25.30,0.45),(24.85,0.52),(25.70,0.80),(25.88,1.02)]

simul_sncc_core = [
    (24.06,1.10),(24.16,0.65),(24.26,1.40),(24.36,0.95),(24.46,1.25),(24.56,0.62),(24.66,1.55),(24.76,1.30),
    (24.86,0.85),(24.96,1.50),(25.06,1.05),(25.16,1.80),(25.26,1.35),(25.36,0.85),(25.46,1.75),(25.56,1.20),
    (25.66,2.05),(25.76,1.05),(25.86,1.85),(25.96,2.00),
    (24.09,0.88),(24.19,1.22),(24.29,0.58),(24.39,1.05),(24.49,0.90),(24.59,1.38),(24.69,0.72),(24.79,1.22),
    (24.89,1.45),(24.99,0.88),(25.09,1.30),(25.19,1.58),(25.29,1.10),(25.39,1.95),(25.49,1.10),(25.59,1.75),
    (25.69,1.35),(25.79,2.10),(25.89,1.20),(25.99,1.70),
    (23.62,0.72),(23.72,0.95),(23.82,0.42),(23.92,0.75),(24.02,1.00),(24.32,1.30),(24.42,0.75),(24.52,1.55),
    (24.72,1.05),(24.82,1.70),(24.92,1.15),(25.02,1.75),(25.12,0.90),(25.22,1.70),(25.32,1.00),(25.42,1.40),
    (25.52,0.95),(25.62,2.15),(25.72,1.65),(25.82,1.58),
    (26.06,1.15),(26.16,2.25),(26.26,1.90),(26.36,1.40),(26.46,2.15),(26.56,2.40),(26.66,2.05),(26.76,2.35),
    (26.86,2.05),(26.96,2.75),(27.16,2.85),(27.26,2.30)]

legend_labels = ["evt<sub>phot</sub>", "SNIa<sub>spec</sub>", "SNCC<sub>spec</sub>", "simul SNIa", "simul SNCC"]

# ---------------- figure ----------------
W, H = 870, 619
ML, MR, MT, MB = 101, 10, 32, 64
PW, PH = W - ML - MR, H - MT - MB

def px_x(px):
    return (px - ML) / PW

def px_y(py):
    return (H - MB - py) / PH

def xs(pts):
    return [p[0] for p in pts]

def ys(pts):
    return [p[1] for p in pts]

FONT = "DejaVu Sans"
BLUE = "#1a1acc"
REDDOT = "#d03a3a"
GREEN = "#33e633"
RED = "#ee1111"

snia_all = simul_snia + simul_snia_more + simul_snia_core
sncc_all = simul_sncc + simul_sncc_more + simul_sncc_core

fig = go.Figure()
fig.add_trace(go.Scatter(x=xs(snia_all), y=ys(snia_all), mode="markers",
                         marker=dict(size=4, color=BLUE), showlegend=False, hoverinfo="skip"))
fig.add_trace(go.Scatter(x=xs(sncc_all), y=ys(sncc_all), mode="markers",
                         marker=dict(size=3.4, color=REDDOT), showlegend=False, hoverinfo="skip"))
fig.add_trace(go.Scatter(x=line_g, y=line_gi, mode="lines", line_shape="spline",
                         line=dict(color="#d62828", width=2, smoothing=0.6), showlegend=False, hoverinfo="skip"))
fig.add_trace(go.Scatter(x=xs(snia_spec), y=ys(snia_spec), mode="markers",
                         marker=dict(size=12, color=GREEN, line=dict(color="#111", width=1.5)),
                         showlegend=False))
fig.add_trace(go.Scatter(x=xs(evt_phot), y=ys(evt_phot), mode="markers",
                         marker=dict(size=12, symbol="circle-open", color="#111", line=dict(width=2)),
                         showlegend=False))
fig.add_trace(go.Scatter(x=xs(sncc_spec), y=ys(sncc_spec), mode="markers",
                         marker=dict(size=12, color=RED, line=dict(color="#111", width=1.5)),
                         showlegend=False))

axis_common = dict(showline=True, linecolor="black", linewidth=2, mirror=True,
                   ticks="inside", ticklen=13, tickwidth=2, tickcolor="black",
                   showgrid=False, zeroline=False,
                   tickfont=dict(family=FONT, size=18, color="black", weight="bold"))

fig.update_xaxes(range=[18, 27.5], dtick=1, tick0=18, ticklabelstandoff=6,
                 minor=dict(dtick=0.2, ticks="inside", ticklen=7, tickwidth=1.5, tickcolor="black", showgrid=False),
                 **axis_common)
fig.update_yaxes(range=[-0.6, 3.6], dtick=0.5, tick0=0, ticklabelstandoff=14,
                 minor=dict(dtick=0.1, ticks="inside", ticklen=7, tickwidth=1.5, tickcolor="black", showgrid=False),
                 **axis_common)

shapes = []
# white page region over the yellow background
shapes.append(dict(type="rect", xref="paper", yref="paper",
                   x0=px_x(5), x1=px_x(W + 5), y0=px_y(7), y1=px_y(H + 5),
                   fillcolor="white", line=dict(width=0), layer="below"))
# orange pointer triangle on the right edge
shapes.append(dict(type="path", xref="paper", yref="paper",
                   path=f"M {px_x(851)} {px_y(448)} L {px_x(872)} {px_y(436)} L {px_x(872)} {px_y(460)} Z",
                   fillcolor="#ff4a0a", line=dict(width=0)))

# legend symbols
def circ(cx, cy, r, fill, lc, lw):
    return dict(type="circle", xref="paper", yref="paper",
                x0=px_x(cx - r), x1=px_x(cx + r), y0=px_y(cy + r), y1=px_y(cy - r),
                fillcolor=fill, line=dict(color=lc, width=lw))

shapes.append(circ(141, 61, 6, "rgba(0,0,0,0)", "#111", 2))
shapes.append(circ(141, 89, 6.5, GREEN, GREEN, 0.5))
shapes.append(circ(141, 120, 6.5, RED, RED, 0.5))
shapes.append(circ(141, 171, 1.7, BLUE, BLUE, 0))
shapes.append(circ(141, 197, 1.7, REDDOT, REDDOT, 0))

annotations = []
leg_y = [66, 95, 124, 170, 196]
for lab, py in zip(legend_labels, leg_y):
    annotations.append(dict(text=lab, xref="paper", yref="paper", x=px_x(164), y=px_y(py),
                            xanchor="left", yanchor="middle", showarrow=False,
                            font=dict(family=FONT, size=23, color="black", weight="bold")))

annotations.append(dict(text="g-i", xref="paper", yref="paper", x=px_x(24), y=px_y(47),
                        xanchor="center", yanchor="middle", textangle=-90, showarrow=False,
                        font=dict(family=FONT, size=22, color="black", weight="bold")))
annotations.append(dict(text="g", xref="paper", yref="paper", x=px_x(851), y=px_y(604),
                        xanchor="center", yanchor="middle", showarrow=False,
                        font=dict(family=FONT, size=26, color="black", weight="bold")))

fig.update_layout(width=W, height=H, margin=dict(l=ML, r=MR, t=MT, b=MB),
                  paper_bgcolor="#ffffcc", plot_bgcolor="white",
                  shapes=shapes, annotations=annotations, showlegend=False)

fig.write_html("out.html")
